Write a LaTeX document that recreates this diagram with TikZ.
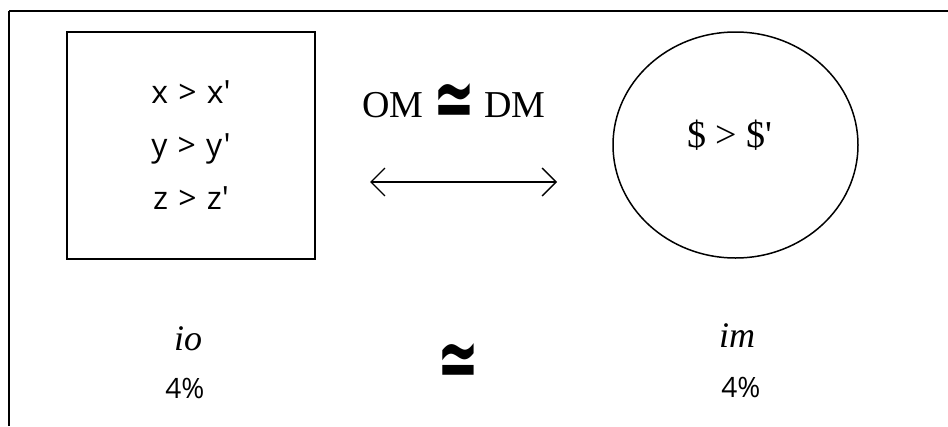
\documentclass[tikz,border=0pt]{standalone}
\usepackage{fontspec}
\setmainfont{Liberation Serif}
\newfontfamily\sansfnt{Open Sans}
\newfontfamily\symfnt{DejaVu Sans}
\usetikzlibrary{arrows.meta,shapes.geometric}
\newcommand{\boldsim}{{\symfnt\bfseries\fontsize{50}{50}\selectfont\scalebox{1}[1.7]{≃}}}
\newcommand{\gt}{\hspace{0.32em}>\hspace{0.32em}}
\begin{document}
\begin{tikzpicture}[
    x=1pt, y=-1pt,
    sqbox/.style={draw, line width=2pt, minimum width=248pt, minimum height=227pt,
                  inner sep=0pt, align=center, font=\sansfnt\fontsize{32}{53}\selectfont},
    ellbox/.style={draw, ellipse, line width=1.5pt, minimum width=245pt,
                   minimum height=226pt, inner sep=0pt},
    sanslbl/.style={font=\sansfnt\fontsize{28}{32}\selectfont, anchor=base},
    seriflbl/.style={font=\fontsize{38}{42}\selectfont, anchor=base},
    itlbl/.style={font=\itshape\fontsize{36}{40}\selectfont, anchor=base}]
  \useasboundingbox (0,0) rectangle (948,426);
  % frame on two sides
  \draw[line width=2pt] (9,426) -- (9,11);
  \draw[line width=1.4pt] (9,11) -- (948,11);
  % the two shapes
  \node[sqbox] (sq) at (191,145.5) {x\gt x'\\y\gt y'\\z\gt z'};
  \node[ellbox] (cir) at (735.5,145) {};
  \node[seriflbl] (dol) at (730,147) {\$ > \$\textquotesingle};
  % middle
  \node[seriflbl] (om) at (454,117) {OM \raisebox{-10pt}{\boldsim} DM};
  \coordinate (al) at (370,182);
  \coordinate (ar) at (557,182);
  \draw[{Straight Barb[length=14pt,width=28pt]}-{Straight Barb[length=14pt,width=28pt]}, line width=1.4pt] (al) -- (ar);
  % bottom row
  \node[itlbl] (io) at (188,350) {io};
  \node[sanslbl] (pl) at (185,398) {4\%};
  \node (sim) at (458,366) {\boldsim};
  \node[itlbl] (im) at (737,347) {im};
  \node[sanslbl] (pr) at (741,397) {4\%};
\end{tikzpicture}
\end{document}
